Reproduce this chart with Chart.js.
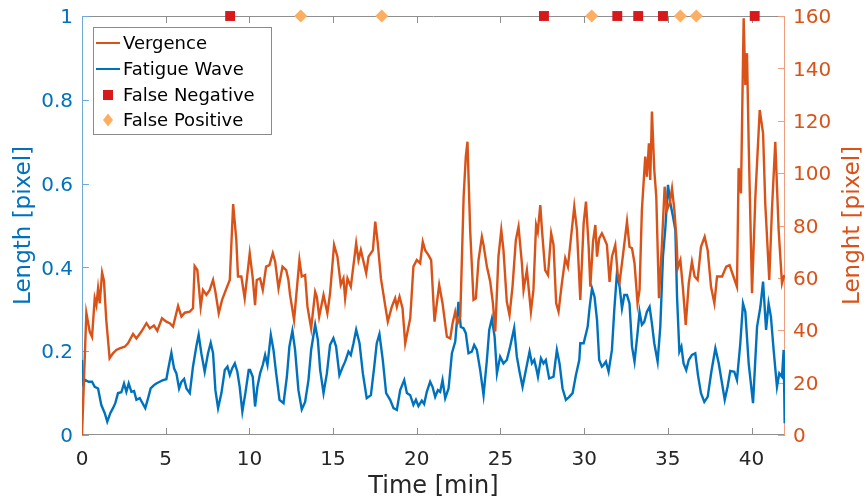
<!DOCTYPE html>
<html><head><meta charset="utf-8">
<script src="https://cdn.jsdelivr.net/npm/chart.js@4.4.1/dist/chart.umd.min.js"></script>
<style>html,body{margin:0;padding:0;background:#fff;} #wrap{width:866px;height:504px;}</style>
</head><body><div id="wrap"><canvas id="c" width="866" height="504"></canvas></div>
<script>
const vergenceTime = [0,0.26,0.46,0.6,0.76,0.86,0.96,1.06,1.2,1.31,1.45,1.65,1.85,2.05,2.25,2.55,2.75,3.05,3.25,3.55,3.85,4.05,4.3,4.5,4.78,5.04,5.24,5.44,5.74,5.94,6.14,6.44,6.63,6.73,6.89,7.09,7.23,7.43,7.63,7.83,7.97,8.17,8.37,8.63,8.83,9.03,9.22,9.32,9.52,9.72,10.02,10.2,10.34,10.44,10.64,10.8,11,11.2,11.4,11.54,11.74,11.98,12.2,12.33,12.43,12.67,12.99,13.13,13.33,13.47,13.69,13.93,14.03,14.17,14.43,14.66,14.82,15.06,15.26,15.46,15.62,15.72,15.86,16.06,16.38,16.52,16.66,16.82,16.98,17.12,17.38,17.52,17.66,17.86,18.11,18.27,18.51,18.71,18.81,18.97,19.15,19.31,19.61,19.8,20,20.2,20.36,20.5,20.7,20.86,21.06,21.34,21.54,21.8,22,22.14,22.3,22.44,22.6,22.8,22.93,23.03,23.19,23.39,23.53,23.69,23.89,23.99,24.19,24.39,24.55,24.69,24.88,25.05,25.18,25.38,25.54,25.72,25.92,26.08,26.28,26.38,26.58,26.82,26.97,27.13,27.23,27.38,27.48,27.67,27.84,28.03,28.17,28.33,28.47,28.67,28.87,29.03,29.21,29.41,29.57,29.77,29.97,30.11,30.27,30.37,30.53,30.67,30.77,30.9,31.06,31.16,31.36,31.52,31.66,31.86,32,32.12,32.32,32.56,32.71,32.86,33.01,33.19,33.31,33.45,33.65,33.75,33.87,33.95,34.05,34.19,34.31,34.47,34.65,34.81,34.95,35.11,35.25,35.39,35.51,35.59,35.75,35.91,36.07,36.25,36.44,36.6,36.78,36.98,37.2,37.38,37.58,37.78,37.94,38.24,38.49,38.69,38.89,39.13,39.23,39.37,39.53,39.63,39.73,39.83,40.03,40.23,40.49,40.69,40.82,41.06,41.22,41.42,41.62,41.82,41.96];
const vergenceValue = [0,46.6,39.5,37.5,52.2,49.6,56,50.3,62,59,43.9,29.3,31.2,32.5,33.1,33.7,35,38.6,36.9,39.5,42.7,40.7,41.8,39.8,44.6,43.3,42.7,41.4,49.3,45.2,46.7,47.1,48.4,64.5,63,49,55.4,53.5,55.4,59.2,54.7,46.5,51.6,56,59.2,88.2,74.5,60.5,60.5,52.2,69.4,60,49.6,59.2,59.8,55.4,64.3,64.9,69.4,66.2,56,64.3,63,59.2,53.5,43.9,66.8,60.5,61.1,49,40.7,54.7,52.8,45.2,53.5,46.5,54.1,72.6,68.1,57.3,59.8,52.2,59.8,56.6,73.2,66.8,70.6,66.2,61.8,68.1,70.6,81.5,73.8,59.8,49.6,43.3,49,52.2,49,52.8,48.4,35,44.6,64.3,66.8,65.6,73.8,70.6,68.7,66.8,43.3,57.3,50.3,37.5,36.9,42.7,47.1,42.7,45.2,91,106.3,112,78.3,51.6,52.2,66.8,75.7,72.6,64.3,58.5,50.3,39.5,68.1,78.3,70.6,50.9,45.8,56.6,74.5,79.5,65.6,55.4,63,47.1,55.4,80.2,77.6,87.8,78.3,63,61.1,77,72.6,50.3,47.1,57.9,67.5,64.3,75.1,87.2,78.3,51.6,80.8,89.1,71.9,56.6,73.8,80.2,68.1,75.1,77,75.7,72.6,58.5,68.1,72.6,61.8,58.5,68.7,81.5,71.9,71.3,65.6,50.3,55.4,85.9,106.3,98.6,111.4,97.4,123.5,101.2,91,52.2,73.2,94.8,85.9,88.5,94.2,85.9,75.7,63.7,66.8,55.4,42,57.9,66.2,60.5,59.2,71.9,75.7,70.6,56.6,50.3,60.5,60.5,64.3,64.9,61.1,56.6,101.9,92.3,159.1,133.7,145.8,111.4,54.1,91,124.1,115.2,88.5,59.2,85.9,112,78.3,57.9,61.1];
const fatigueTime = [0,0.06,0.2,0.4,0.6,0.76,0.96,1.15,1.36,1.51,1.69,1.85,1.99,2.15,2.35,2.51,2.65,2.79,2.95,3.11,3.25,3.45,3.6,3.78,3.95,4.1,4.3,4.44,4.64,4.84,5.04,5.14,5.34,5.5,5.64,5.8,5.94,6.1,6.24,6.44,6.63,6.83,6.97,7.13,7.33,7.53,7.69,7.83,7.97,8.13,8.33,8.53,8.69,8.83,8.97,9.13,9.28,9.42,9.58,9.76,9.96,10.04,10.2,10.34,10.48,10.64,10.8,10.94,11.08,11.28,11.44,11.6,11.8,12.04,12.24,12.39,12.57,12.73,12.93,13.13,13.33,13.53,13.69,13.93,14.09,14.23,14.43,14.63,14.82,15.02,15.18,15.38,15.58,15.72,15.92,16.06,16.22,16.38,16.58,16.78,17.01,17.26,17.46,17.61,17.77,17.97,18.17,18.41,18.61,18.81,19.01,19.25,19.41,19.61,19.8,19.95,20.1,20.3,20.44,20.6,20.8,20.94,21.1,21.26,21.4,21.54,21.7,21.9,22.1,22.3,22.49,22.63,22.79,22.93,23.09,23.29,23.43,23.59,23.79,23.99,24.19,24.33,24.49,24.65,24.79,24.98,25.18,25.38,25.58,25.82,25.98,26.14,26.32,26.52,26.74,26.88,27.02,27.14,27.24,27.42,27.57,27.71,27.91,28.17,28.37,28.53,28.71,28.91,29.11,29.31,29.51,29.71,29.77,29.97,30.21,30.33,30.47,30.62,30.77,30.9,31.06,31.16,31.3,31.46,31.66,31.8,31.96,32.12,32.26,32.4,32.56,32.71,32.86,33.01,33.19,33.31,33.45,33.59,33.75,33.91,34.05,34.19,34.39,34.55,34.71,34.85,35.01,35.15,35.31,35.45,35.55,35.69,35.81,35.94,36.1,36.25,36.44,36.64,36.8,36.98,37.18,37.38,37.6,37.84,38.04,38.24,38.4,38.57,38.73,38.97,39.13,39.33,39.49,39.63,39.83,40.09,40.33,40.53,40.69,40.87,41.02,41.16,41.32,41.52,41.66,41.82,41.92,41.98];
const fatigueValue = [0.179,0.123,0.131,0.127,0.127,0.115,0.111,0.072,0.052,0.032,0.052,0.064,0.076,0.1,0.102,0.123,0.103,0.123,0.103,0.105,0.084,0.088,0.077,0.064,0.088,0.111,0.119,0.123,0.127,0.131,0.133,0.155,0.196,0.159,0.147,0.111,0.127,0.134,0.111,0.1,0.163,0.211,0.239,0.195,0.151,0.195,0.22,0.195,0.107,0.064,0.1,0.155,0.163,0.143,0.159,0.171,0.151,0.115,0.056,0.1,0.155,0.155,0.139,0.068,0.115,0.147,0.167,0.191,0.167,0.239,0.203,0.147,0.084,0.076,0.139,0.211,0.249,0.203,0.107,0.061,0.079,0.131,0.203,0.263,0.227,0.155,0.1,0.147,0.215,0.231,0.211,0.143,0.163,0.175,0.199,0.191,0.219,0.251,0.219,0.147,0.088,0.095,0.163,0.219,0.241,0.179,0.1,0.084,0.064,0.06,0.107,0.131,0.1,0.095,0.072,0.084,0.069,0.082,0.074,0.103,0.127,0.115,0.091,0.107,0.103,0.131,0.088,0.111,0.195,0.223,0.318,0.258,0.255,0.243,0.195,0.199,0.215,0.203,0.155,0.095,0.179,0.251,0.278,0.235,0.147,0.187,0.171,0.179,0.211,0.255,0.187,0.151,0.115,0.155,0.199,0.171,0.179,0.159,0.139,0.183,0.171,0.179,0.135,0.139,0.203,0.171,0.111,0.084,0.091,0.1,0.143,0.179,0.219,0.219,0.258,0.306,0.35,0.33,0.274,0.179,0.163,0.167,0.175,0.151,0.203,0.298,0.386,0.354,0.302,0.334,0.334,0.314,0.211,0.175,0.243,0.294,0.263,0.27,0.294,0.306,0.266,0.219,0.175,0.258,0.426,0.493,0.597,0.553,0.521,0.489,0.33,0.199,0.211,0.171,0.155,0.179,0.191,0.195,0.143,0.1,0.079,0.091,0.151,0.207,0.171,0.123,0.084,0.115,0.153,0.151,0.131,0.219,0.314,0.294,0.171,0.076,0.258,0.306,0.366,0.251,0.314,0.282,0.203,0.115,0.147,0.139,0.203,0.028];
const falseNegativeTime = [8.85, 27.6, 31.98, 33.23, 34.71, 40.19];
const falsePositiveTime = [13.07, 17.91, 30.45, 35.75, 36.7];
const markerLevel = 1;
const xTickValues = [0, 5, 10, 15, 20, 25, 30, 35, 40];
const leftTickValues = [0, 0.2, 0.4, 0.6, 0.8, 1];
const leftTickLabels = ['0', '0.2', '0.4', '0.6', '0.8', '1'];
const rightTickValues = [0, 20, 40, 60, 80, 100, 120, 140, 160];
const rightTickLabels = ['0', '20', '40', '60', '80', '100', '120', '140', '160'];
const legendLabels = ['Vergence', 'Fatigue Wave', 'False Negative', 'False Positive'];

const C_ORANGE = '#D95319', C_BLUE = '#0072BD', C_RED = '#D7191C', C_PEACH = '#FDAE61';
const FONT = "'DejaVu Sans', Verdana, sans-serif";
Chart.defaults.font.family = FONT;

const deco = {
  id: 'deco',
  beforeDatasetsDraw(chart) {
    const {ctx, chartArea: a, scales} = chart;
    ctx.save();
    ctx.lineWidth = 1;
    const L = 7;
    ctx.strokeStyle = '#8f8f8f';
    ctx.beginPath();
    ctx.moveTo(a.left, a.top + 0.5); ctx.lineTo(a.right, a.top + 0.5);
    ctx.moveTo(a.left, a.bottom - 0.5); ctx.lineTo(a.right, a.bottom - 0.5);
    xTickValues.forEach(v => {
      const px = Math.round(scales.x.getPixelForValue(v)) + 0.5;
      ctx.moveTo(px, a.bottom); ctx.lineTo(px, a.bottom - L);
      ctx.moveTo(px, a.top); ctx.lineTo(px, a.top + L);
    });
    ctx.stroke();
    ctx.strokeStyle = '#6fa9d6';
    ctx.beginPath();
    ctx.moveTo(a.left + 0.5, a.top); ctx.lineTo(a.left + 0.5, a.bottom);
    leftTickValues.forEach(v => {
      const py = Math.round(scales.y.getPixelForValue(v)) + 0.5;
      ctx.moveTo(a.left, py); ctx.lineTo(a.left + L, py);
    });
    ctx.stroke();
    ctx.strokeStyle = '#ee9f80';
    ctx.beginPath();
    ctx.moveTo(a.right - 0.5, a.top); ctx.lineTo(a.right - 0.5, a.bottom);
    rightTickValues.forEach(v => {
      const py = Math.round(scales.y1.getPixelForValue(v)) + 0.5;
      ctx.moveTo(a.right, py); ctx.lineTo(a.right - L, py);
    });
    ctx.stroke();
    ctx.restore();
  },
  afterDraw(chart) {
    const {ctx, chartArea: a} = chart;
    ctx.save();
    ctx.translate(853, (a.top + a.bottom) / 2);
    ctx.rotate(-Math.PI / 2);
    ctx.fillStyle = C_ORANGE;
    ctx.font = '23px ' + FONT;
    ctx.textAlign = 'center';
    ctx.textBaseline = 'middle';
    ctx.fillText('Lenght [pixel]', 0, 0);
    ctx.restore();

    ctx.save();
    const bx = 93, by = 27, bw = 178, bh = 107;
    ctx.fillStyle = '#fff';
    ctx.fillRect(bx, by, bw, bh);
    ctx.strokeStyle = '#8a8a8a';
    ctx.lineWidth = 1;
    ctx.strokeRect(bx + 0.5, by + 0.5, bw, bh);
    const rows = [43, 69, 95, 120];
    ctx.lineWidth = 2;
    ctx.strokeStyle = C_ORANGE;
    ctx.beginPath(); ctx.moveTo(96, rows[0]); ctx.lineTo(120, rows[0]); ctx.stroke();
    ctx.strokeStyle = C_BLUE;
    ctx.beginPath(); ctx.moveTo(96, rows[1]); ctx.lineTo(120, rows[1]); ctx.stroke();
    ctx.fillStyle = C_RED;
    ctx.fillRect(103, rows[2] - 5, 10, 10);
    ctx.fillStyle = C_PEACH;
    ctx.beginPath();
    ctx.moveTo(108, rows[3] - 6.5); ctx.lineTo(113, rows[3]); ctx.lineTo(108, rows[3] + 6.5); ctx.lineTo(103, rows[3]);
    ctx.closePath(); ctx.fill();
    ctx.fillStyle = '#000';
    ctx.font = '18px ' + FONT;
    ctx.textAlign = 'left';
    ctx.textBaseline = 'middle';
    legendLabels.forEach((t, i) => ctx.fillText(t, 123, rows[i] + 1));
    ctx.restore();
  }
};

const noPadV = s => { s.paddingTop = 0; s.paddingBottom = 0; };

new Chart(document.getElementById('c'), {
  type: 'scatter',
  data: {
    datasets: [
      { label: legendLabels[0], data: vergenceTime.map((t, i) => ({x: t, y: vergenceValue[i]})), yAxisID: 'y1',
        showLine: true, borderColor: C_ORANGE, borderWidth: 2.4, pointRadius: 0, tension: 0, order: 1 },
      { label: legendLabels[1], data: fatigueTime.map((t, i) => ({x: t, y: fatigueValue[i]})), yAxisID: 'y',
        showLine: true, borderColor: C_BLUE, borderWidth: 2.4, pointRadius: 0, tension: 0, order: 2 },
      { label: legendLabels[2], data: falseNegativeTime.map(t => ({x: t, y: markerLevel})), yAxisID: 'y',
        showLine: false, pointStyle: 'rect', pointRadius: 7, backgroundColor: C_RED, borderColor: C_RED, borderWidth: 0, clip: false, order: 0 },
      { label: legendLabels[3], data: falsePositiveTime.map(t => ({x: t, y: markerLevel})), yAxisID: 'y',
        showLine: false, pointStyle: 'rectRot', pointRadius: 6.5, backgroundColor: C_PEACH, borderColor: C_PEACH, borderWidth: 0, clip: false, order: 0 }
    ]
  },
  options: {
    responsive: false,
    animation: false,
    devicePixelRatio: 1,
    events: [],
    layout: { padding: { top: 16, left: 0, right: 0, bottom: 0 } },
    plugins: { legend: { display: false }, tooltip: { enabled: false } },
    scales: {
      x: {
        type: 'linear', min: 0, max: 42,
        afterBuildTicks: s => { s.ticks = xTickValues.map(v => ({value: v})); },
        ticks: { color: '#262626', font: { size: 20 }, padding: 13, maxRotation: 0, autoSkip: false },
        grid: { display: false, drawTicks: false }, border: { display: false },
        title: { display: true, text: 'Time [min]', color: '#262626', font: { size: 24 }, padding: { top: 0, bottom: 3 } },
        afterFit: s => { s.height = 69; s.paddingLeft = 0; s.paddingRight = 0; }
      },
      y: {
        position: 'left', min: 0, max: 1,
        afterBuildTicks: s => { s.ticks = leftTickValues.map(v => ({value: v})); },
        ticks: { color: C_BLUE, font: { size: 20 }, padding: 9, labelOffset: 2, callback: (v, i) => leftTickLabels[i] },
        grid: { display: false, drawTicks: false }, border: { display: false },
        title: { display: true, text: 'Length [pixel]', color: C_BLUE, font: { size: 23 }, padding: { top: 10, bottom: 0 } },
        afterFit: s => { s.width = 82; noPadV(s); }
      },
      y1: {
        position: 'right', min: 0, max: 160,
        afterBuildTicks: s => { s.ticks = rightTickValues.map(v => ({value: v})); },
        ticks: { color: C_ORANGE, font: { size: 20 }, padding: 8, labelOffset: 2, callback: (v, i) => rightTickLabels[i] },
        grid: { display: false, drawTicks: false }, border: { display: false },
        afterFit: s => { s.width = 81; noPadV(s); }
      }
    }
  },
  plugins: [deco]
});
</script>
</body></html>
